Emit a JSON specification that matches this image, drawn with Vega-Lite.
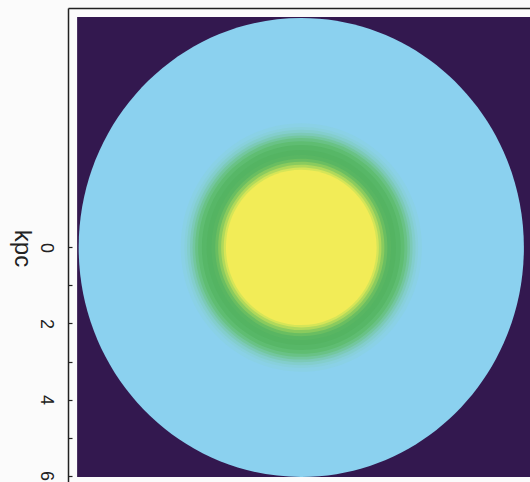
{
  "$schema": "https://vega.github.io/schema/vega-lite/v6.json",
  "autosize": "none",
  "padding": {"left": 68, "top": 8, "right": 0, "bottom": 0},
  "width": 462,
  "height": 474,
  "background": "#fbfbfb",
  "config": {"view": {"stroke": null}},
  "datasets": {
    "image": [{"x0": -5.9, "x1": 6.03, "y0": -6.06, "y1": 6.04}],
    "rings": [
      {"r": 6.0, "level": 1},
      {"r": 3.25, "level": 2},
      {"r": 3.15, "level": 3},
      {"r": 3.08, "level": 4},
      {"r": 3.0, "level": 5},
      {"r": 2.93, "level": 6},
      {"r": 2.86, "level": 7},
      {"r": 2.78, "level": 8},
      {"r": 2.68, "level": 9},
      {"r": 2.55, "level": 10},
      {"r": 2.42, "level": 11},
      {"r": 2.32, "level": 12},
      {"r": 2.24, "level": 13},
      {"r": 2.16, "level": 14},
      {"r": 2.09, "level": 15},
      {"r": 2.03, "level": 16}
    ]
  },
  "layer": [
    {
      "data": {"name": "image"},
      "mark": {"type": "rect", "color": "#33184f"},
      "encoding": {
        "x": {
          "field": "x0", "type": "quantitative",
          "scale": {"domain": [-6.14, 6.02], "nice": false, "zero": false},
          "axis": {"orient": "top", "labels": false, "ticks": false, "domain": true, "domainColor": "#222", "domainWidth": 1.5, "grid": false, "title": null}
        },
        "x2": {"field": "x1"},
        "y": {
          "field": "y0", "type": "quantitative",
          "scale": {"domain": [-6.3, 6.17], "nice": false, "zero": false, "reverse": true},
          "axis": {
            "orient": "left", "values": [0, 1, 2, 3, 4, 5, 6],
            "labelExpr": "datum.value % 2 === 0 ? datum.label : ''",
            "tickSize": -4, "tickColor": "#222", "tickWidth": 1.2,
            "domainColor": "#222", "domainWidth": 1.5, "grid": false,
            "labelAngle": 90, "labelAlign": "center", "labelBaseline": "alphabetic",
            "labelFont": "Liberation Sans", "labelFontSize": 18, "labelColor": "#222",
            "labelPadding": 32, "labelFlush": false, "labelOverlap": false,
            "title": "kpc", "titleFont": "Liberation Sans", "titleFontSize": 24, "titleFontWeight": "normal",
            "titleAngle": 90, "titleBaseline": "alphabetic", "titleAlign": "center",
            "titleX": -54, "titleY": 240, "titleColor": "#222"
          }
        },
        "y2": {"field": "y1"}
      }
    },
    {
      "data": {"name": "rings"},
      "mark": {"type": "point", "shape": "M-0.97,0A0.97,1,0,1,0,0.97,0A0.97,1,0,1,0,-0.97,0Z", "filled": true, "opacity": 1, "strokeWidth": 0, "clip": true},
      "encoding": {
        "x": {"datum": 0, "type": "quantitative"},
        "y": {"datum": 0, "type": "quantitative"},
        "size": {"field": "r", "type": "quantitative", "scale": {"type": "pow", "exponent": 2, "domain": [0, 6], "range": [0, 210681]}, "legend": null},
        "color": {"field": "level", "type": "ordinal", "scale": {"domain": [1, 2, 3, 4, 5, 6, 7, 8, 9, 10, 11, 12, 13, 14, 15, 16], "range": ["#8bd1ef", "#8ad1e6", "#88d0dc", "#83cecd", "#7ccab8", "#73c79f", "#69c286", "#5fbd72", "#57b767", "#54b462", "#59b662", "#6abe61", "#8acb5e", "#b0d95b", "#d5e558", "#f2ec57"]}, "legend": null},
        "order": {"field": "r", "sort": "descending"}
      }
    }
  ]
}
